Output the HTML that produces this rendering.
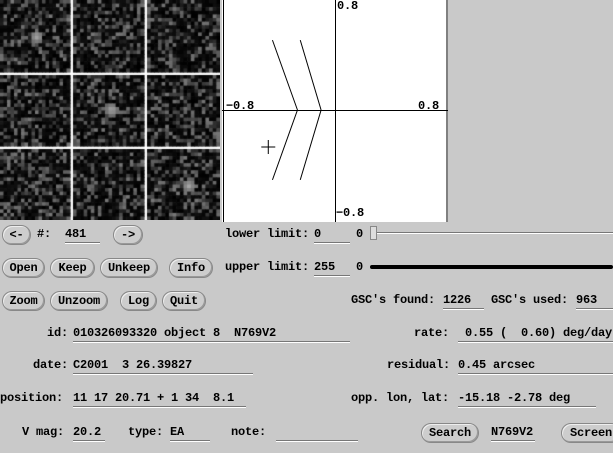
<!DOCTYPE html>
<html><head><meta charset="utf-8">
<style>
body{margin:0;width:613px;height:453px;overflow:hidden;background:#c9c9c9;position:relative;font-family:"Liberation Mono",monospace;font-weight:bold;font-size:12px;letter-spacing:-0.2px;color:#000}
.t{position:absolute;white-space:pre;line-height:14px;margin-top:1px}
.f{position:absolute;border-bottom:1px solid #777;box-shadow:0 1px 0 #fff;white-space:pre;line-height:14px;height:15px;margin-top:1px}
.b{position:absolute;height:20px;border:1px solid #888;border-radius:10px;background:#cdcdcd;box-shadow:inset 1px 1px 0 #eee,inset -1px -1px 0 #999;text-align:center;line-height:19px;white-space:pre;box-sizing:border-box}
</style></head><body>
<canvas id="tiles" width="220" height="220" style="position:absolute;left:0;top:0"></canvas>
<svg id="plot" width="226" height="222" style="position:absolute;left:222px;top:0">
<rect x="0" y="0" width="226" height="222" fill="#fff"/>
<line x1="1.5" y1="0" x2="1.5" y2="222" stroke="#000"/>
<line x1="225" y1="0" x2="225" y2="222" stroke="#000"/>
<g id="marks"></g>
<text x="115" y="9" font-family="Liberation Mono" font-weight="bold" font-size="12">0.8</text>
<text x="4" y="109" font-family="Liberation Mono" font-weight="bold" font-size="12">−0.8</text>
<text x="196" y="109" font-family="Liberation Mono" font-weight="bold" font-size="12">0.8</text>
<text x="114" y="216" font-family="Liberation Mono" font-weight="bold" font-size="12">−0.8</text>
</svg>

<div class="b" style="left:2px;top:225px;width:29px">&lt;-</div>
<div class="t" style="left:37px;top:226px">#:</div>
<div class="f" style="left:65px;top:226px;width:35px">481</div>
<div class="b" style="left:113px;top:225px;width:30px">-&gt;</div>
<div class="t" style="left:225px;top:226px">lower limit:</div>
<div class="f" style="left:314px;top:226px;width:36px">0</div>
<div class="t" style="left:356px;top:226px">0</div>
<div style="position:absolute;left:374px;top:232px;width:239px;height:1px;background:#777;box-shadow:0 1px 0 #fff"></div>
<div style="position:absolute;left:370px;top:226px;width:5px;height:12px;border:1px solid #888;background:#ddd"></div>

<div class="b" style="left:2px;top:258px;width:43px">Open</div>
<div class="b" style="left:50px;top:258px;width:45px">Keep</div>
<div class="b" style="left:100px;top:258px;width:58px">Unkeep</div>
<div class="b" style="left:169px;top:258px;width:44px">Info</div>
<div class="t" style="left:225px;top:259px">upper limit:</div>
<div class="f" style="left:314px;top:259px;width:36px">255</div>
<div class="t" style="left:356px;top:259px">0</div>
<div style="position:absolute;left:370px;top:265px;width:243px;height:4px;background:#000;border-radius:2px"></div>

<div class="b" style="left:2px;top:291px;width:43px">Zoom</div>
<div class="b" style="left:50px;top:291px;width:58px">Unzoom</div>
<div class="b" style="left:120px;top:291px;width:37px">Log</div>
<div class="b" style="left:162px;top:291px;width:44px">Quit</div>
<div class="t" style="left:351px;top:292px">GSC's found:</div>
<div class="f" style="left:443px;top:292px;width:41px">1226</div>
<div class="t" style="left:491px;top:292px">GSC's used:</div>
<div class="f" style="left:576px;top:292px;width:37px">963</div>

<div class="t" style="left:47px;top:325px">id:</div>
<div class="f" style="left:73px;top:325px;width:277px">010326093320 object 8  N769V2</div>
<div class="t" style="left:414px;top:325px">rate:</div>
<div class="f" style="left:458px;top:325px;width:155px"> 0.55 (  0.60) deg/day</div>

<div class="t" style="left:33px;top:357px">date:</div>
<div class="f" style="left:73px;top:357px;width:180px">C2001  3 26.39827</div>
<div class="t" style="left:387px;top:357px">residual:</div>
<div class="f" style="left:458px;top:357px;width:155px">0.45 arcsec</div>

<div class="t" style="left:0px;top:390px">position:</div>
<div class="f" style="left:73px;top:390px;width:173px">11 17 20.71 + 1 34  8.1</div>
<div class="t" style="left:351px;top:390px">opp. lon, lat:</div>
<div class="f" style="left:458px;top:390px;width:138px">-15.18 -2.78 deg</div>

<div class="t" style="left:22px;top:424px">V mag:</div>
<div class="f" style="left:73px;top:424px;width:32px">20.2</div>
<div class="t" style="left:128px;top:424px">type:</div>
<div class="f" style="left:170px;top:424px;width:40px">EA</div>
<div class="t" style="left:231px;top:424px">note:</div>
<div class="f" style="left:276px;top:424px;width:82px"></div>
<div class="b" style="left:421px;top:423px;width:58px">Search</div>
<div class="f" style="left:491px;top:424px;width:44px">N769V2</div>
<div class="b" style="left:561px;top:423px;width:60px;text-align:left;padding-left:8px">Screen</div>

<script>
// chart data (plot coordinates, range -0.8..0.8)
var chevronX = [-0.45, -0.27, -0.45];
var chevronX2 = [-0.25, -0.10, -0.25];
var chevronY = [0.51, 0, -0.51];
var plusX = [-0.48];
var plusY = [-0.27];

var cx = 113, cy = 110, sx = 139, sy = 137;
function X(v){return cx + v*sx;}
function Y(v){return cy - v*sy;}
var NS='http://www.w3.org/2000/svg';
var g=document.getElementById('marks');
function line(x1,y1,x2,y2,name){
  var l=document.createElementNS(NS,'line');
  l.setAttribute('x1',x1);l.setAttribute('y1',y1);l.setAttribute('x2',x2);l.setAttribute('y2',y2);
  l.setAttribute('stroke','#000');l.setAttribute('stroke-width','1');
  
  
  g.appendChild(l);
}
line(0,cy+0.5,226,cy+0.5,'x-axis');
line(cx+0.5,0,cx+0.5,222,'y-axis');
[chevronX,chevronX2].forEach(function(arr,k){
  for(var i=0;i<arr.length-1;i++){
    line(X(arr[i]),Y(chevronY[i]),X(arr[i+1]),Y(chevronY[i+1]),'chevron-'+(k+1)+'-segment');
  }
});
for(var i=0;i<plusX.length;i++){
  line(X(plusX[i])-7,Y(plusY[i]),X(plusX[i])+7,Y(plusY[i]),'plus-marker-h');
  line(X(plusX[i]),Y(plusY[i])-7,X(plusX[i]),Y(plusY[i])+7,'plus-marker-v');
}

// image tiles (noise texture)
var c=document.getElementById('tiles').getContext('2d');
c.fillStyle='#fff';c.fillRect(0,0,220,220);
var seed=12345;function rnd(){seed=(seed*1103515245+12345)%2147483648;return seed/2147483648;}
var tx=[0,73,147],tw=[70,71,73],ty=[0,75,149],th=[72,71,71];
var blobs=[[0,0,35,35],[1,1,37,33],[2,2,40,35]];
for(var r=0;r<3;r++)for(var q=0;q<3;q++){
  var n=20,pw=tw[q]/n,ph=th[r]/n;
  for(var a=0;a<n;a++)for(var b=0;b<n;b++){
    var v=rnd();v=v<0.55?v*30:20+(v-0.55)*220;
    blobs.forEach(function(bl){if(bl[0]===r&&bl[1]===q){var dx=b*pw-bl[2],dy=a*ph-bl[3];var d=Math.sqrt(dx*dx+dy*dy);if(d<7)v=Math.max(v,170-d*10);}});
    v=Math.round(v);
    c.fillStyle='rgb('+v+','+v+','+v+')';
    c.fillRect(tx[q]+b*pw,ty[r]+a*ph,pw+0.6,ph+0.6);
  }
}
</script>
</body></html>
